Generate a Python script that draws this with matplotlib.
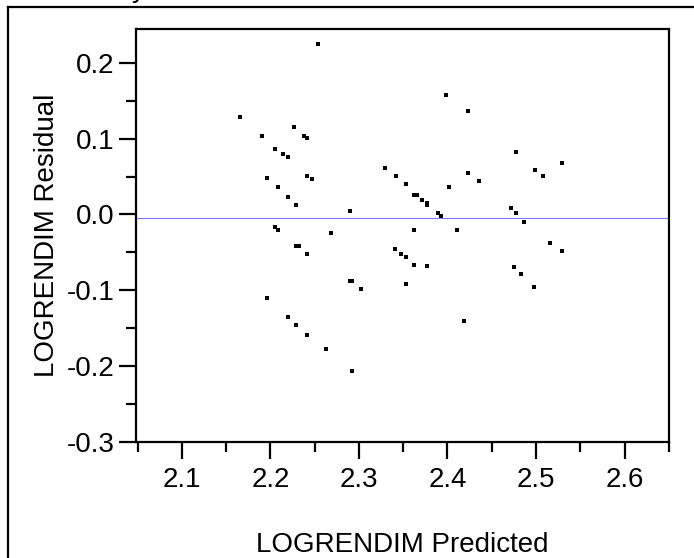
import numpy as np
import matplotlib
matplotlib.use("Agg")
import matplotlib.pyplot as plt
from matplotlib.lines import Line2D
from matplotlib.ticker import MultipleLocator


# Data
predicted = [2.2537, 2.1658, 2.2262, 2.1903, 2.2383, 2.2413, 2.2050, 2.2141, 2.2197,
             2.3294, 2.3415, 2.1959, 2.2413, 2.2474, 2.2081, 2.2202, 2.2288, 2.2900,
             2.2050, 2.2081, 2.2685, 2.2293, 2.2322, 2.2413, 2.3411, 2.3475, 2.2897,
             2.2927, 2.3018, 2.1959, 2.2202, 2.2293, 2.2413, 2.2628, 2.2927, 2.3535,
             2.3626, 2.3656, 2.3717, 2.3773, 2.3773, 2.3895, 2.3925, 2.3989, 2.4227,
             2.4016, 2.4227, 2.4352, 2.3626, 2.4107, 2.3535, 2.4771, 2.4986, 2.5077,
             2.5289, 2.4714, 2.4771, 2.4862, 2.5164, 2.5289, 2.3626, 2.3773, 2.3532,
             2.4190, 2.4756, 2.4836, 2.4983]
residual = [0.2248, 0.1292, 0.1150, 0.1040, 0.1040, 0.1009, 0.0863, 0.0792, 0.0757,
            0.0615, 0.0505, 0.0478, 0.0505, 0.0473, 0.0367, 0.0226, 0.0120, 0.0048,
            -0.0165, -0.0204, -0.0239, -0.0412, -0.0412, -0.0518, -0.0452, -0.0518, -0.0882,
            -0.0882, -0.0988, -0.1098, -0.1347, -0.1453, -0.1594, -0.1771, -0.2058, 0.0398,
            0.0261, 0.0261, 0.0190, 0.0155, 0.0120, 0.0013, -0.0023, 0.1575, 0.1363,
            0.0367, 0.0544, 0.0438, -0.0199, -0.0199, -0.0558, 0.0827, 0.0584, 0.0509,
            0.0685, 0.0084, 0.0013, -0.0093, -0.0377, -0.0483, -0.0660, -0.0673, -0.0914,
            -0.1400, -0.0688, -0.0781, -0.0954]
mean_line = -0.004

x_ticks = [2.1, 2.2, 2.3, 2.4, 2.5, 2.6]
y_ticks = [-0.3, -0.2, -0.1, 0.0, 0.1, 0.2]


plt.rcParams['font.family'] = ['Liberation Sans', 'DejaVu Sans']

fig = plt.figure(figsize=(6.94, 5.58), dpi=100)
ax = fig.add_axes([0.1955, 0.2079, 0.7689, 0.7407])

# Residual points and mean line
ax.scatter(predicted, residual, marker='s', s=5, color='black', linewidths=0)
ax.axhline(mean_line, color='#7878ff', lw=0.8)

ax.set_xlim(2.0478, 2.6506)
ax.set_ylim(-0.3, 0.245)

ax.set_xticks(x_ticks)
ax.set_xticklabels([f"{t:.1f}" for t in x_ticks])
ax.set_yticks(y_ticks)
ax.set_yticklabels([f"{t:.1f}" for t in y_ticks])
ax.xaxis.set_minor_locator(MultipleLocator(0.05))
ax.yaxis.set_minor_locator(MultipleLocator(0.05))

ax.tick_params(which='major', length=12, width=1.6, labelsize=20)
ax.tick_params(axis='x', which='major', pad=6)
ax.tick_params(axis='y', which='major', pad=3)
ax.tick_params(which='minor', length=7, width=1.6)
for sp in ax.spines.values():
    sp.set_linewidth(1.6)

ax.set_xlabel("LOGRENDIM Predicted", fontsize=20, labelpad=28)
ax.set_ylabel("LOGRENDIM Residual", fontsize=20, labelpad=5)

# Outer report frame (cut off at right and bottom)
fig.add_artist(Line2D([8 / 694, 8 / 694], [0, 1 - 7 / 558], color='black', lw=1.6))
fig.add_artist(Line2D([8 / 694, 1], [1 - 7 / 558, 1 - 7 / 558], color='black', lw=1.6))

# Title mostly above the image edge, as in the report
fig.text(1 / 694, 1 + 2.7 / 558, "Residual by Predicted Plot", fontsize=20, va='baseline')

fig.savefig("out.png", dpi=100)
